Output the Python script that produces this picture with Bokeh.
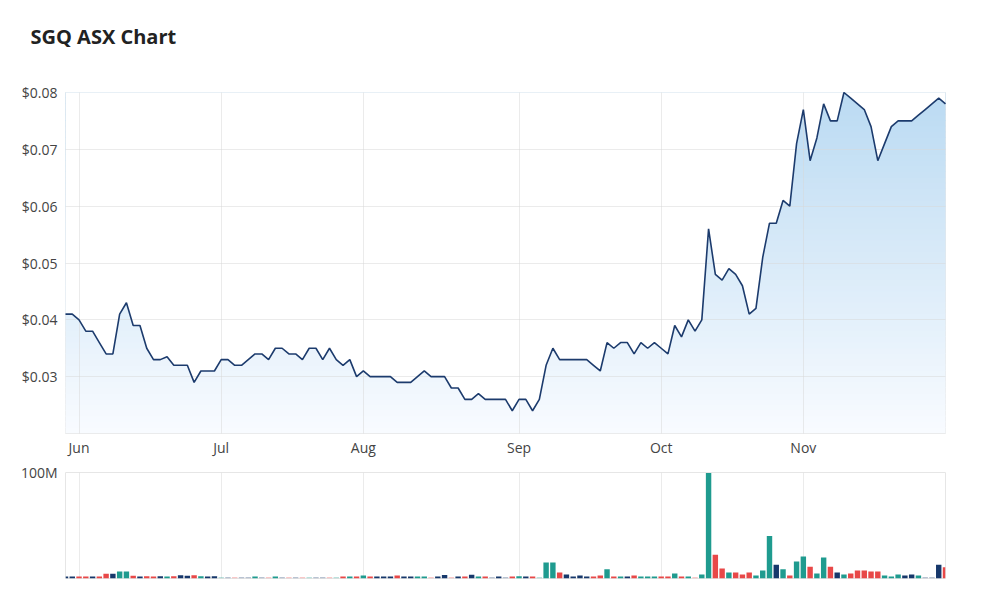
import numpy as np
from bokeh.plotting import figure
from bokeh.layouts import column
from bokeh.models import FixedTicker, NumeralTickFormatter, Range1d
from bokeh.core.properties import value
from bokeh.embed import file_html
from bokeh.resources import INLINE

# ---------------- data ----------------
chart_title = "SGQ ASX Chart"
month_labels = ["Jun", "Jul", "Aug", "Sep", "Oct", "Nov"]
month_start_idx = [2, 23, 44, 67, 88, 109]          # trading-day index of 1st session of month
price_ticks = [0.03, 0.04, 0.05, 0.06, 0.07, 0.08]

price = [
    0.041, 0.041, 0.040, 0.038, 0.038, 0.036, 0.034, 0.034, 0.041, 0.043,
    0.039, 0.039, 0.035, 0.033, 0.033, 0.0335, 0.032, 0.032, 0.032, 0.029,
    0.031, 0.031, 0.031, 0.033, 0.033, 0.032, 0.032, 0.033, 0.034, 0.034,
    0.033, 0.035, 0.035, 0.034, 0.034, 0.033, 0.035, 0.035, 0.033, 0.035,
    0.033, 0.032, 0.033, 0.030, 0.031, 0.030, 0.030, 0.030, 0.030, 0.029,
    0.029, 0.029, 0.030, 0.031, 0.030, 0.030, 0.030, 0.028, 0.028, 0.026,
    0.026, 0.027, 0.026, 0.026, 0.026, 0.026, 0.024, 0.026, 0.026, 0.024,
    0.026, 0.032, 0.035, 0.033, 0.033, 0.033, 0.033, 0.033, 0.032, 0.031,
    0.036, 0.035, 0.036, 0.036, 0.034, 0.036, 0.035, 0.036, 0.035, 0.034,
    0.039, 0.037, 0.040, 0.038, 0.040, 0.056, 0.048, 0.047, 0.049, 0.048,
    0.046, 0.041, 0.042, 0.051, 0.057, 0.057, 0.061, 0.060, 0.071, 0.077,
    0.068, 0.072, 0.078, 0.075, 0.075, 0.080, 0.079, 0.078, 0.077, 0.074,
    0.068, 0.071, 0.074, 0.075, 0.075, 0.075, 0.076, 0.077, 0.078, 0.079,
    0.078,
]

# volume in millions of shares
volume_m = [
    1.8, 1.8, 1.8, 1.8, 1.8, 1.8, 4.5, 4.5, 6.5, 6.5,
    2.5, 1.8, 2.2, 1.8, 2.2, 1.8, 2.2, 3.0, 2.5, 3.0,
    2.2, 1.8, 2.2, 1.5, 1.5, 1.5, 1.5, 1.5, 1.8, 1.5,
    1.5, 1.8, 1.5, 1.5, 1.5, 1.5, 1.5, 1.5, 1.5, 1.5,
    1.5, 1.8, 1.8, 1.8, 2.8, 1.8, 1.8, 1.8, 1.8, 2.8,
    1.8, 1.8, 1.8, 1.8, 1.5, 1.8, 3.2, 1.5, 1.8, 1.8,
    3.5, 1.8, 1.8, 1.5, 1.8, 1.5, 1.8, 2.2, 1.8, 1.8,
    1.5, 15.0, 15.0, 5.6, 3.8, 2.0, 2.8, 2.0, 2.0, 2.8,
    8.8, 1.8, 1.8, 1.8, 2.8, 1.8, 1.8, 1.8, 1.8, 1.8,
    4.7, 1.8, 1.8, 1.5, 3.8, 99.5, 22.5, 9.5, 5.6, 5.6,
    3.8, 5.6, 2.8, 7.5, 40.0, 13.0, 8.8, 2.8, 16.0, 20.7,
    11.0, 4.7, 19.7, 11.0, 5.6, 3.8, 4.7, 7.5, 7.5, 6.6,
    6.6, 2.8, 1.9, 3.8, 2.8, 3.8, 2.8, 1.5, 1.5, 13.0,
    10.5,
]

# session direction: T = up, R = down, N = unchanged; lower case = faded bar
vol_dir = list(
    "NNRRNRRNTT"
    "RNRRNTRNNR"
    "TNNtnrnnTn"
    "rTnrnrtnnr"
    "tRTRTRNNNR"
    "NNTTrNNrNR"
    "NTRnNnRTNR"
    "tTTRNNNNRR"
    "TRTNRTTTRR"
    "TRTrTTRRTR"
    "RRTTTNTRTT"
    "RTTRNTRRRR"
    "RTTTNNTnnN"
    "R"
)

# ---------------- style ----------------
FONT = "Open Sans"
LABEL_COLOR = "#444444"
dir_style = {
    "T": ("#1f9b8f", 1.0), "t": ("#1f9b8f", 0.3),
    "R": ("#e84848", 1.0), "r": ("#e84848", 0.3),
    "N": ("#17386b", 1.0), "n": ("#17386b", 0.3),
}

n = len(price)
x = list(range(n))
x_range = Range1d(0, n - 1)
y_lo, y_hi = 0.02, 0.08

W = 1000
TITLE_H = 60


def style_axis(ax, standoff):
    ax.axis_line_color = None
    ax.major_tick_line_color = None
    ax.minor_tick_line_color = None
    ax.major_label_text_font = FONT
    ax.major_label_text_font_size = "14px"
    ax.major_label_text_color = LABEL_COLOR
    ax.major_label_standoff = standoff


# ---------------- title strip ----------------
t = figure(width=W, height=TITLE_H, x_range=Range1d(0, W), y_range=Range1d(0, TITLE_H),
           output_backend="svg", toolbar_location=None, frame_align=False,
           min_border_left=0, min_border_right=0, min_border_top=0, min_border_bottom=0)
t.axis.visible = False
t.grid.visible = False
t.outline_line_color = None
t.text(x=[30], y=[TITLE_H - 36], text=[chart_title], text_font=value(FONT),
       text_font_size="20px", text_font_style="bold", text_color="#222222",
       text_baseline="middle", text_align="left")

# ---------------- price figure ----------------
p = figure(width=W, height=374, x_range=x_range, y_range=Range1d(y_lo, y_hi),
           output_backend="svg", toolbar_location=None,
           min_border_left=65, min_border_right=55, min_border_top=32, min_border_bottom=1)
p.background_fill_color = "white"
p.border_fill_color = "white"
p.outline_line_color = "#e6e6e6"

# vertical gradient under the line: bands, then a white mask above the line
band_step = 0.001
band_bottoms = np.arange(y_lo, y_hi, band_step)
frac = (band_bottoms - y_lo) / (y_hi - y_lo)
top_rgb = np.array([186, 218, 242])
bot_rgb = np.array([248, 251, 255])
band_colors = ["#%02x%02x%02x" % tuple(np.round(bot_rgb + (top_rgb - bot_rgb) * f).astype(int))
               for f in frac]
p.quad(left=-1, right=n, bottom=band_bottoms, top=band_bottoms + band_step * 1.15,
       fill_color=band_colors, line_color=None)
p.varea(x=x, y1=price, y2=y_hi + 0.01, fill_color="white")

p.line(x, price, line_color="#1c3b6d", line_width=1.6, level="overlay")

p.xaxis.visible = False
p.xgrid.ticker = FixedTicker(ticks=month_start_idx)
p.yaxis.ticker = FixedTicker(ticks=price_ticks)
p.yaxis.formatter = NumeralTickFormatter(format="$0.00")
style_axis(p.yaxis, 2)
for g in (p.xgrid, p.ygrid):
    g.grid_line_color = "#d8d8d8"
    g.grid_line_alpha = 0.5
    g.level = "annotation"

# ---------------- volume figure (month labels on its top axis) ----------------
v = figure(width=W, height=173, x_range=x_range, y_range=Range1d(0, 100),
           output_backend="svg", toolbar_location=None, x_axis_location="above",
           min_border_left=65, min_border_right=55, min_border_top=38, min_border_bottom=29)
v.outline_line_color = "#e6e6e6"
bar_colors = [dir_style[c][0] for c in vol_dir]
bar_alpha = [dir_style[c][1] for c in vol_dir]
v.vbar(x=x, top=volume_m, width=0.8, fill_color=bar_colors, fill_alpha=bar_alpha, line_color=None)

v.xaxis.ticker = FixedTicker(ticks=month_start_idx)
v.xaxis.major_label_overrides = {i: lab for i, lab in zip(month_start_idx, month_labels)}
style_axis(v.xaxis, 10)
v.yaxis.ticker = FixedTicker(ticks=[100])
v.yaxis.major_label_overrides = {100: "100M"}
style_axis(v.yaxis, 2)
v.xgrid.ticker = FixedTicker(ticks=month_start_idx)
for g in (v.xgrid, v.ygrid):
    g.grid_line_color = "#d8d8d8"
    g.grid_line_alpha = 0.5

layout = column(t, p, v)
open("out.html", "w").write(file_html(layout, INLINE))
